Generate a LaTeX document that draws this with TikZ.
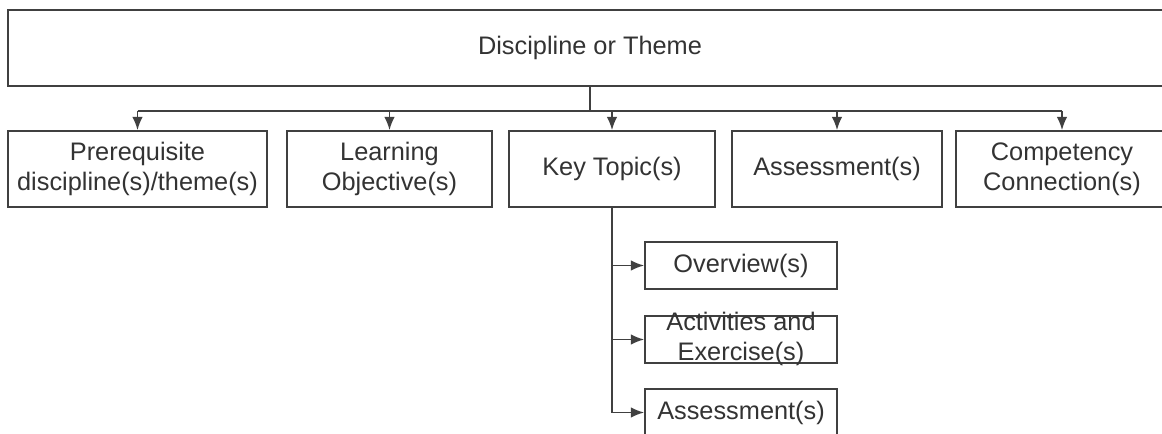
\documentclass[tikz,border=0pt]{standalone}
\usepackage{fontspec}
\setmainfont{Liberation Sans}
\usetikzlibrary{arrows.meta}
\definecolor{linec}{HTML}{404040}
\definecolor{textc}{HTML}{333333}
\tikzset{
  box/.style={draw=linec, line width=1.3pt, fill=white, rectangle, inner sep=0pt,
    minimum height=57pt, text=textc, align=center,
    font=\fontsize{19}{22.5}\selectfont},
  subbox/.style={box, minimum height=35.25pt, minimum width=144pt},
  txt/.style={inner sep=0pt, text=textc, align=center, font=\fontsize{19}{22.5}\selectfont},
  conn/.style={draw=linec, line width=1.3pt},
  arr/.style={conn, -{Latex[length=10pt,width=8pt]}},
}
\begin{document}
\begin{tikzpicture}[x=0.75pt,y=-0.75pt]
\useasboundingbox (0,0) rectangle (1162,434);
\clip (0,0) rectangle (1162,434);
\fill[white] (0,0) rectangle (1162,434);
% top
\node[box, minimum width=873pt, minimum height=57pt] (top) at (590,48) {Discipline or Theme};
% children
\node[box, minimum width=194.25pt] (c1) at (137.5,169) {Prerequisite\\discipline(s)/theme(s)};
\node[box, minimum width=153.75pt] (c2) at (389.5,169) {Learning\\Objective(s)};
\node[box, minimum width=154.5pt] (c3) at (612,169) {Key Topic(s)};
\node[box, minimum width=157.5pt] (c4) at (837,169) {Assessment(s)};
\node[box, minimum width=159pt] (c5) at (1062,169) {Competency\\Connection(s)};
% sub boxes
\node[subbox] (s1) at (741,265.5) {Overview(s)};
\node[subbox] (s2) at (741,339.5) {};
\node[txt] (s2t) at (741,339) {Activities and\\Exercise(s)};
\node[subbox] (s3) at (741,412.5) {Assessment(s)};
% connectors
\coordinate (bus) at (590,111);
\draw[conn] (top.south -| bus) -- (bus);
\draw[conn] (bus -| c1.north) -- (bus -| c5.north);
\foreach \c in {c1,c2,c3,c4,c5}{
  \draw[arr] (bus -| \c.north) -- (\c.north);
}
\draw[conn] (c3.south) -- (c3.south |- s3.west);
\foreach \s in {s1,s2,s3}{
  \draw[arr] (c3.south |- \s.west) -- (\s.west);
}
\end{tikzpicture}
\end{document}
